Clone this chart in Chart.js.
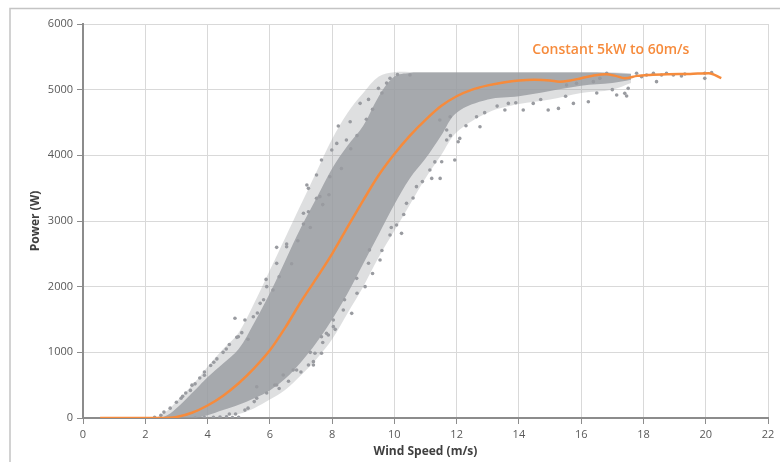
<!DOCTYPE html>
<html><head><meta charset="utf-8">
<script src="https://cdn.jsdelivr.net/npm/chart.js@4.4.0/dist/chart.umd.min.js"></script>
<style>html,body{margin:0;padding:0;background:#fff;}#wrap{width:780px;height:462px;}</style>
</head><body><div id="wrap"><canvas id="c" width="780" height="462"></canvas></div>
<script>
// Power curve (orange line)
const curveSpeed = [0.55,1.5,2.5,3.0,3.5,4.0,4.5,5.0,5.5,6.0,6.5,7.0,7.5,8.0,8.5,9.0,9.5,10.0,10.5,11.0,11.5,12.0,12.5,13.0,13.5,14.0,14.5,15.0,15.3,15.6,16.0,16.4,16.8,17.1,17.4,17.8,18.2,18.8,19.5,20.1,20.5];
const curvePower = [0,0,0,15,80,190,340,530,760,1030,1380,1770,2130,2500,2910,3315,3700,4020,4300,4540,4750,4900,5000,5065,5110,5140,5150,5140,5120,5135,5175,5215,5235,5210,5175,5210,5225,5235,5240,5250,5175];
const bandSpeed = [2.4,2.6,2.8,3.0,3.25,3.5,3.75,4.0,4.5,5.0,5.5,6.0,6.5,7.0,7.5,8.0,8.5,9.0,9.5,10.0,10.5,11.0,11.5,12.0,13.0,14.0,15.0,16.0,17.0,17.6];
const coreLow  = [0,0,0,0,0,0,10,40,120,200,300,420,600,850,1150,1500,1900,2350,2800,3250,3650,3950,4300,4650,4850,4900,4980,5060,5100,5150];
const coreHigh = [0,20,70,150,260,380,500,620,830,1050,1450,1900,2400,2900,3350,3800,4150,4450,4900,5200,5255,5260,5260,5260,5260,5260,5260,5260,5255,5240];
const haloLow  = [0,0,0,0,0,0,0,0,20,60,150,280,430,650,900,1200,1600,2000,2450,2850,3250,3650,4000,4350,4650,4780,4850,4950,5000,5100];
const haloHigh = [20,80,150,250,370,500,630,780,1050,1300,1750,2250,2750,3250,3750,4250,4650,4950,5200,5265,5270,5270,5270,5270,5270,5270,5270,5270,5265,5250];
// Sparse outlying measurements
const scatterSpeed = [2.3,2.5,2.6,2.8,3.0,3.15,3.3,3.45,3.6,3.75,3.9,4.1,4.3,4.5,4.7,4.88,4.94,4.99,5.2,5.47,5.69,5.88,5.9,6.22,6.22,6.54,6.54,7.08,7.08,7.24,7.24,7.5,7.5,7.19,7.61,7.66,7.93,7.99,8.15,8.2,8.46,8.58,8.9,9.17,9.49,9.86,10.1,10.5,
 3.6,3.9,4.19,4.4,4.61,4.8,5.0,4.9,5.3,5.58,5.58,6.16,6.22,6.43,6.75,6.86,7.24,7.4,7.4,7.45,7.66,7.66,7.82,7.88,8.04,8.04,8.36,8.63,8.79,9.06,9.17,9.2,9.54,9.86,10.07,10.23,10.39,10.71,11.14,11.2,11.47,11.52,11.68,11.94,11.46,11.68,11.79,12.05,12.1,12.64,12.75,13.55,13.66,14.14,14.46,14.94,15.27,15.75,16.23,17.14,17.4,17.46,17.51,
 16.82,17.78,17.94,18.1,18.32,18.42,18.58,18.74,18.96,19.22,19.33,19.97,19.97,20.19,15.53,15.85,16.39,16.6,
 3.2,3.5,3.9,4.2,4.6,5.1,5.3,5.6,5.8,6.1,6.3,6.7,6.9,7.3,7.7,7.9,8.3,8.6,8.8,9.1,9.3,9.6,9.75,
 4.7,5.2,5.5,5.9,6.3,6.6,7.0,7.3,7.7,8.1,8.4,8.8,9.3,9.6,9.9,10.3,10.6,10.9,11.3,11.8,12.3,12.9,13.3,13.9,14.7,15.5,16.5,17.0];
const scatterPower = [10,40,90,150,240,300,380,420,520,610,700,800,900,1000,1120,1518,1228,1238,1492,1543,1746,2111,2000,2599,2355,2650,2609,2955,3117,3142,3497,3345,3700,3548,3371,3929,3675,4081,4182,4446,4233,4512,4792,4852,5020,5172,5230,5224,
 0,5,10,15,20,5,10,60,150,300,477,503,503,655,731,731,807,807,858,985,985,1238,1289,1264,1391,1492,1645,1594,2127,2000,2356,2560,2406,2787,2939,2812,3269,3523,3776,3649,3649,3903,4233,3928,4537,4385,4588,4207,4258,4588,4436,4690,4791,4690,4791,4690,4715,4791,4817,4918,4944,4904,5020,
 5249,5249,5198,5223,5249,5122,5223,5249,5223,5208,5238,5249,5172,5259,5071,5096,5122,5172,
 330,500,650,850,1050,1300,1200,1600,1800,1950,2150,2350,2700,2900,3250,3400,3800,4100,4300,4550,4700,4950,5100,
 60,120,250,380,450,560,700,1000,1150,1350,1800,1900,2200,2550,2900,3100,3350,3600,3900,4300,4450,4650,4750,4800,4850,4900,4950,5000];
const xTickValues = [0,2,4,6,8,10,12,14,16,18,20,22];
const yTickValues = [0,1000,2000,3000,4000,5000,6000];
const annotationText = 'Constant 5kW to 60m/s';

const pts = (xs, ys) => xs.map((x, i) => ({x: x, y: ys[i]}));
const GREY = '#999ba0';

const frame = {
  id: 'frame',
  beforeDraw(chart) {
    const ctx = chart.ctx;
    ctx.save();
    ctx.strokeStyle = '#c4c4c4';
    ctx.lineWidth = 1.5;
    ctx.strokeRect(10, 8.5, 800, 500);
    ctx.restore();
  },
  afterDatasetsDraw(chart) {
    const ctx = chart.ctx, sx = chart.scales.x, sy = chart.scales.y;
    ctx.save();
    ctx.fillStyle = '#f68b3c';
    ctx.font = '600 14px "Open Sans"';
    ctx.textAlign = 'center';
    ctx.textBaseline = 'middle';
    ctx.fillText(annotationText, sx.getPixelForValue(16.95), sy.getPixelForValue(5600));
    ctx.restore();
  }
};

const tickFont = {family: '"Open Sans"', size: 11};
const titleFont = {family: '"Open Sans"', size: 12, weight: 'bold'};
const plainTick = v => String(v);

new Chart(document.getElementById('c'), {
  type: 'scatter',
  data: {
    datasets: [
      {type: 'line', data: pts(curveSpeed, curvePower), borderColor: '#f68b3c', borderWidth: 2.5, pointRadius: 0, cubicInterpolationMode: 'monotone', fill: false},
      {type: 'scatter', data: pts(scatterSpeed, scatterPower), backgroundColor: GREY, borderWidth: 0, pointRadius: 1.8},
      {type: 'line', data: pts(bandSpeed, coreHigh), borderWidth: 0, borderColor: 'rgba(0,0,0,0)', pointRadius: 0, tension: 0.35, fill: '+1', backgroundColor: 'rgba(153,155,160,0.80)'},
      {type: 'line', data: pts(bandSpeed, coreLow), borderWidth: 0, borderColor: 'rgba(0,0,0,0)', pointRadius: 0, tension: 0.35, fill: false},
      {type: 'line', data: pts(bandSpeed, haloHigh), borderWidth: 0, borderColor: 'rgba(0,0,0,0)', pointRadius: 0, tension: 0.35, fill: '+1', backgroundColor: 'rgba(153,155,160,0.32)'},
      {type: 'line', data: pts(bandSpeed, haloLow), borderWidth: 0, borderColor: 'rgba(0,0,0,0)', pointRadius: 0, tension: 0.35, fill: false}
    ]
  },
  options: {
    responsive: false,
    animation: false,
    events: [],
    layout: {padding: {top: 24, right: 12, left: 0, bottom: 0}},
    plugins: {legend: {display: false}, tooltip: {enabled: false}},
    scales: {
      x: {
        type: 'linear', min: 0, max: 22,
        afterBuildTicks: s => { s.ticks = xTickValues.map(v => ({value: v})); },
        afterFit: s => { s.height = 44; },
        ticks: {font: tickFont, color: '#595959', padding: 4, callback: plainTick},
        grid: {color: '#d9d9d9', tickColor: '#8c8c8c', tickLength: 6, lineWidth: 1},
        border: {color: '#8c8c8c', width: 2},
        title: {display: true, text: 'Wind Speed (m/s)', font: titleFont, color: '#404040', padding: {top: 0, bottom: 3}}
      },
      y: {
        type: 'linear', min: 0, max: 6000,
        afterBuildTicks: s => { s.ticks = yTickValues.map(v => ({value: v})); },
        afterFit: s => { s.width = 83; },
        ticks: {font: tickFont, color: '#595959', padding: 4, callback: plainTick},
        grid: {color: '#d9d9d9', tickColor: '#8c8c8c', tickLength: 6, lineWidth: 1},
        border: {color: '#8c8c8c', width: 2},
        title: {display: true, text: 'Power (W)', font: titleFont, color: '#404040', padding: {top: 28, bottom: 0}}
      }
    }
  },
  plugins: [frame]
});
</script></body></html>
